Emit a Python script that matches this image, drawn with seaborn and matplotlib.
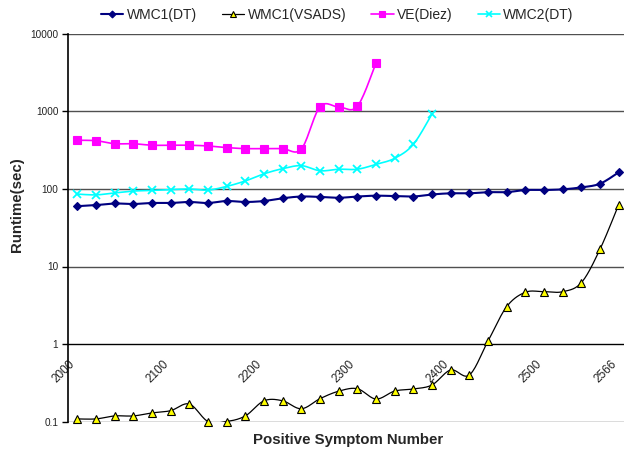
import numpy as np
import matplotlib
matplotlib.use("Agg")
import matplotlib.pyplot as plt
from matplotlib.lines import Line2D
from matplotlib.ticker import NullLocator
from matplotlib.transforms import ScaledTranslation
import seaborn as sns

# -----------------------------
# DATA
# -----------------------------
symptom_number = [2000, 2020, 2040, 2060, 2080, 2100, 2120, 2140, 2160, 2180,
                  2200, 2220, 2240, 2260, 2280, 2300, 2320, 2340, 2360, 2380,
                  2400, 2420, 2440, 2460, 2480, 2500, 2520, 2540, 2560, 2566]
shown_labels = ["2000", "2100", "2200", "2300", "2400", "2500", "2566"]

wmc1_dt = [60, 62, 65, 64, 66, 66, 68, 66, 70, 68,
           70, 76, 80, 79, 77, 80, 82, 81, 80, 85,
           88, 88, 91, 91, 97, 97, 99, 105, 117, 164]
wmc1_vsads = [0.108, 0.108, 0.118, 0.118, 0.129, 0.138, 0.168, 0.1, 0.1, 0.118,
              0.185, 0.185, 0.146, 0.197, 0.246, 0.265, 0.195, 0.247, 0.263, 0.296,
              0.462, 0.398, 1.09, 3.03, 4.65, 4.73, 4.73, 6.18, 16.7, 62.7]
ve_diez = [425, 420, 384, 384, 367, 367, 367, 359, 342, 332,
           332, 332, 328, 1153, 1143, 1167, 4226]
wmc2_dt = [86, 84, 89, 94, 96, 98, 100, 97, 108, 127,
           157, 183, 200, 172, 180, 180, 208, 249, 377, 929]


def smooth(values, n=16):
    # Excel-style smoothed line (Catmull-Rom bezier in screen space, log y)
    pts = np.column_stack([np.arange(len(values), dtype=float), np.log10(values)])
    P = np.vstack([pts[0], pts, pts[-1]])
    t = np.linspace(0, 1, n, endpoint=False)[:, None]
    segs = []
    for i in range(1, len(P) - 2):
        p0, p1, p2, p3 = P[i - 1], P[i], P[i + 1], P[i + 2]
        c1 = p1 + (p2 - p0) / 6
        c2 = p2 - (p3 - p1) / 6
        segs.append((1 - t) ** 3 * p1 + 3 * (1 - t) ** 2 * t * c1
                    + 3 * (1 - t) * t ** 2 * c2 + t ** 3 * p2)
    segs.append(P[-2][None])
    arr = np.vstack(segs)
    return arr[:, 0], 10 ** arr[:, 1]


sns.set_style("white")
plt.rcParams['font.family'] = ['Liberation Sans', 'DejaVu Sans']

fig = plt.figure(figsize=(6.24, 4.51), dpi=100)
ax = fig.add_axes([68 / 624, 29.5 / 451, 560 / 624, 387.5 / 451])

series = [
    # label, values, line colour, lw, marker, face, edge, size
    ("WMC1(DT)", wmc1_dt, "#000080", 1.5, "D", "#000080", "#000080", 4.5),
    ("WMC1(VSADS)", wmc1_vsads, "black", 0.9, "^", "#FFFF00", "black", 6),
    ("VE(Diez)", ve_diez, "#FF00FF", 1.2, "s", "#FF00FF", "#FF00FF", 6),
    ("WMC2(DT)", wmc2_dt, "#00FFFF", 1.2, "x", "#00FFFF", "#00FFFF", 6),
]

handles = []
for label, vals, lc, lw, mk, fc, ec, ms in series:
    sx, sy = smooth(vals)
    sns.lineplot(x=sx, y=sy, ax=ax, color=lc, lw=lw, sort=False, estimator=None)
    kx = np.arange(len(vals))
    if mk == "x":
        ax.plot(kx, vals, ls="none", marker="x", ms=ms, mew=1.3, color=fc, clip_on=False, zorder=4)
    else:
        ax.plot(kx, vals, ls="none", marker=mk, ms=ms, mfc=fc, mec=ec, mew=0.8,
                clip_on=False, zorder=4)
    handles.append(Line2D([0], [0], color=lc, lw=lw, marker=mk, ms=ms - 1,
                          mfc=fc, mec=ec, mew=0.8 if mk != "x" else 1.2))

# -----------------------------
# AXES
# -----------------------------
ax.set_yscale("log")
ax.set_ylim(0.1, 10000)
ax.set_xlim(-0.5, len(symptom_number) - 0.5)
ax.set_yticks([0.1, 1, 10, 100, 1000, 10000], ["0.1", "1", "10", "100", "1000", "10000"])
ax.yaxis.set_minor_locator(NullLocator())
ax.yaxis.grid(True, color="#505050", lw=1)
ax.set_axisbelow(True)

ax.set_xticks(np.arange(-0.5, len(symptom_number), 1), [])
label_pos = [symptom_number.index(int(s)) for s in shown_labels]
ax.set_xticks(label_pos, shown_labels, minor=True)
ax.tick_params(axis="x", which="major", direction="out", length=5, width=1, color="black")
ax.tick_params(axis="x", which="minor", length=0, pad=13, labelsize=8.5, labelcolor="#222222")
ax.tick_params(axis="y", which="major", direction="out", length=4, width=1, color="black",
               labelsize=7.2, labelcolor="#222222", pad=3, left=True)

for side in ["top", "right"]:
    ax.spines[side].set_visible(False)
ax.spines["bottom"].set_position(("data", 1))
ax.spines["bottom"].set_color("black")
ax.spines["left"].set_color("black")
ax.spines["left"].set_linewidth(1.2)
ax.set_xlabel("")
ax.set_ylabel("")

fig.text(348 / 624, 1 - 440 / 451, "Positive Symptom Number", ha="center", va="center",
         fontsize=10.8, fontweight="bold")
fig.text(17 / 624, 1 - 205 / 451, "Runtime(sec)", ha="center", va="center",
         rotation=90, fontsize=10.8, fontweight="bold")

fig.legend(handles, [s[0] for s in series], loc="center", bbox_to_anchor=(337.5 / 624, 1 - 15 / 451),
           ncol=4, frameon=False, handlelength=1.6, handletextpad=0.25, columnspacing=1.8,
           fontsize=10)

fig.canvas.draw()
shift = ScaledTranslation(-4 / 100, 0, fig.dpi_scale_trans)
for tick in ax.xaxis.get_minor_ticks():
    lab = tick.label1
    lab.set_rotation(45)
    lab.set_ha("right")
    lab.set_va("center")
    lab.set_rotation_mode("anchor")
    lab.set_transform(lab.get_transform() + shift)

fig.savefig("out.png", dpi=100)
